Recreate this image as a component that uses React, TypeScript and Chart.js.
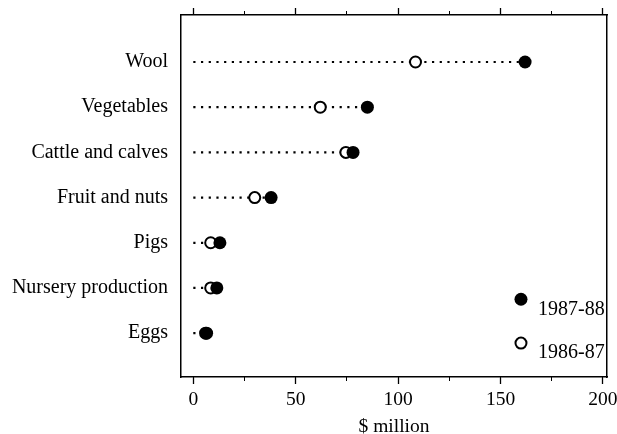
import React, { useEffect, useRef } from "react";
import { Chart, registerables } from "chart.js";

Chart.register(...registerables);

const categories = ["Wool", "Vegetables", "Cattle and calves", "Fruit and nuts", "Pigs", "Nursery production", "Eggs"];
const values8788 = [162, 85, 78, 38, 13, 11.5, 6.5];
const values8687 = [108.5, 62, 74.5, 30, 8.5, 8.5, 6];
const legendLabels = ["1987-88", "1986-87"];
const legendX = 160;
const legendY = [5.25, 6.22];
const xTickStep = 50;
const xMinorStep = 25;

const FONT = "'Liberation Serif', 'Times New Roman', serif";

export default function App() {
  const ref = useRef<HTMLCanvasElement | null>(null);
  useEffect(() => {
    if (!ref.current) return;
    const lineData: any[] = [];
    categories.forEach((_, i) => {
      lineData.push({ x: 0, y: i });
      lineData.push({ x: Math.max(values8788[i], values8687[i]), y: i });
      lineData.push({ x: 0, y: null });
    });
    const legendPlugin = {
      id: "legendMarks",
      afterDatasetsDraw(chart: any) {
        const ctx = chart.ctx;
        const xs = chart.scales.x;
        const ys = chart.scales.y;
        legendLabels.forEach((lab, k) => {
          const px = xs.getPixelForValue(legendX);
          const py = ys.getPixelForValue(legendY[k]);
          ctx.save();
          ctx.beginPath();
          if (k === 0) {
            ctx.arc(px, py, 6.5, 0, Math.PI * 2);
            ctx.fillStyle = "#000";
            ctx.fill();
          } else {
            ctx.arc(px, py, 5.5, 0, Math.PI * 2);
            ctx.fillStyle = "#fff";
            ctx.fill();
            ctx.lineWidth = 2;
            ctx.strokeStyle = "#000";
            ctx.stroke();
          }
          ctx.fillStyle = "#000";
          ctx.font = "20px " + FONT;
          ctx.textAlign = "left";
          ctx.textBaseline = "middle";
          ctx.fillText(lab, px + 17, py + 10);
          ctx.restore();
        });
      },
    };
    const xCommon = { type: "linear", min: -6, max: 202 };
    const zeroPad = (s: any) => { s.paddingLeft = 0; s.paddingRight = 0; s.paddingTop = 0; s.paddingBottom = 0; };
    const chart = new Chart(ref.current, {
      type: "scatter",
      data: {
        datasets: [
          {
            label: "1987-88",
            data: values8788.map((v, i) => ({ x: v, y: i })),
            pointRadius: 6.5,
            pointBorderWidth: 0,
            pointBackgroundColor: "#000",
            pointBorderColor: "#000",
            order: 0,
          },
          {
            label: "1986-87",
            data: values8687.map((v, i) => ({ x: v, y: i })),
            pointRadius: 5.5,
            pointBorderWidth: 2,
            pointBackgroundColor: "#fff",
            pointBorderColor: "#000",
            order: 1,
          },
          {
            label: "lines",
            data: lineData,
            showLine: true,
            spanGaps: false,
            pointRadius: 0,
            borderColor: "#000",
            borderWidth: 2.2,
            borderDash: [2.2, 5.5],
            order: 2,
          } as any,
        ],
      },
      options: {
        animation: false,
        responsive: false,
        layout: { padding: 0 },
        plugins: { legend: { display: false }, tooltip: { enabled: false } },
        scales: {
          x: {
            ...xCommon,
            position: "bottom",
            weight: 1,
            afterFit: (s: any) => { s.height = 57; zeroPad(s); },
            ticks: { stepSize: xTickStep, includeBounds: false, color: "#000", font: { family: FONT, size: 19.5 }, padding: 4, maxRotation: 0 },
            grid: { drawOnChartArea: false, drawTicks: true, tickLength: 7, color: "#000", tickWidth: 1.3 },
            border: { display: true, color: "#000", width: 1.5 },
            title: { display: true, text: "$ million", color: "#000", font: { family: FONT, size: 19.5, lineHeight: 0.75 }, padding: { top: 0, bottom: 0 } },
          },
          xMinor: {
            ...xCommon,
            position: "bottom",
            weight: 0,
            afterFit: (s: any) => { s.height = 0; zeroPad(s); },
            ticks: { stepSize: xMinorStep, includeBounds: false, display: false },
            grid: { drawOnChartArea: false, drawTicks: true, tickLength: 4, color: "#000", tickWidth: 1 },
            border: { display: false },
          },
          xTop: {
            ...xCommon,
            position: "top",
            weight: 1,
            afterFit: (s: any) => { s.height = 15; zeroPad(s); },
            ticks: { stepSize: xTickStep, includeBounds: false, display: false },
            grid: { drawOnChartArea: false, drawTicks: true, tickLength: 7, color: "#000", tickWidth: 1.3 },
            border: { display: true, color: "#000", width: 1.5 },
          },
          xTopMinor: {
            ...xCommon,
            position: "top",
            weight: 0,
            afterFit: (s: any) => { s.height = 0; zeroPad(s); },
            ticks: { stepSize: xMinorStep, includeBounds: false, display: false },
            grid: { drawOnChartArea: false, drawTicks: true, tickLength: 4, color: "#000", tickWidth: 1 },
            border: { display: false },
          },
          y: {
            type: "linear",
            position: "left",
            reverse: true,
            min: -1.04,
            max: 6.97,
            afterFit: (s: any) => { s.width = 181; zeroPad(s); },
            afterBuildTicks: (s: any) => { s.ticks = categories.map((_, i) => ({ value: i })); },
            ticks: {
              color: "#000",
              font: { family: FONT, size: 20 },
              padding: 13,
              autoSkip: false,
              callback: (v: any) => categories[Math.round(Number(v))] ?? "",
            },
            grid: { drawOnChartArea: false, drawTicks: false },
            border: { display: true, color: "#000", width: 1.5 },
          },
          yRight: {
            type: "linear",
            position: "right",
            min: 0,
            max: 1,
            afterFit: (s: any) => { s.width = 10; zeroPad(s); },
            ticks: { display: false },
            grid: { drawOnChartArea: false, drawTicks: false },
            border: { display: true, color: "#000", width: 1.5 },
          },
        },
      } as any,
      plugins: [legendPlugin],
    });
    return () => chart.destroy();
  }, []);
  return (
    <div style={{ position: "absolute", left: 0, top: 0, width: 617, height: 434, background: "#fff" }}>
      <canvas ref={ref} width={617} height={434} style={{ display: "block" }} />
    </div>
  );
}
